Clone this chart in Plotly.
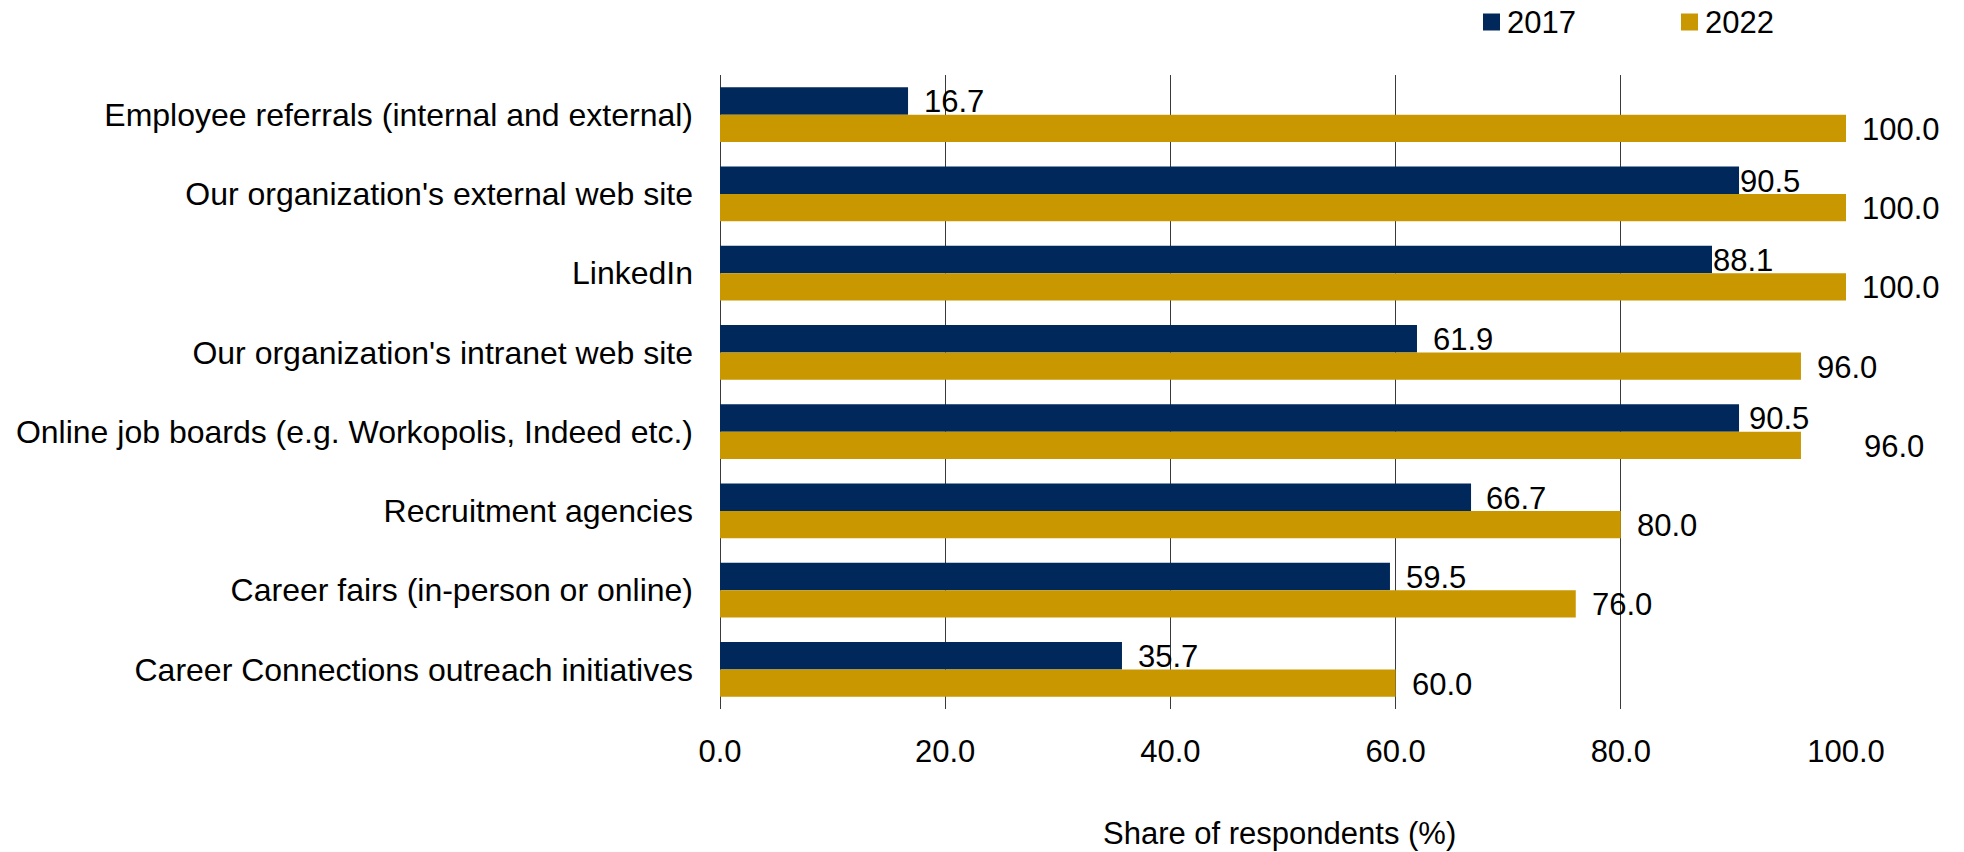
import plotly.graph_objects as go

# Recruitment channels and share of respondents using each (%)
channels = [
    "Employee referrals (internal and external)",
    "Our organization's external web site",
    "LinkedIn",
    "Our organization's intranet web site",
    "Online job boards (e.g. Workopolis, Indeed etc.)",
    "Recruitment agencies",
    "Career fairs (in-person or online)",
    "Career Connections outreach initiatives",
]
share_2017 = [16.7, 90.5, 88.1, 61.9, 90.5, 66.7, 59.5, 35.7]
share_2022 = [100.0, 100.0, 100.0, 96.0, 96.0, 80.0, 76.0, 60.0]
x_ticks = [0, 20, 40, 60, 80, 100]

# Styling
NAVY = "#00285A"
GOLD = "#C99700"
GRID = "#3a3a3a"
FONT = "Liberation Sans, Arial, sans-serif"
NUM_SIZE = 31
CAT_SIZE = 32
BARGAP = 0.31

# Horizontal pixel gap between bar end and its value label
gap_2017 = [16, 1, 1, 16, 10, 15, 16, 16]
gap_2022 = [16, 16, 16, 16, 63, 16, 16, 16]

# Page geometry (px)
W, H = 1964, 852
ML, MR, MT, MB = 720, 118, 75, 143

fig = go.Figure()
fig.add_trace(go.Bar(y=channels, x=share_2017, orientation="h", name="2017",
                     marker=dict(color=NAVY, line=dict(width=0))))
fig.add_trace(go.Bar(y=channels, x=share_2022, orientation="h", name="2022",
                     marker=dict(color=GOLD, line=dict(width=0))))

# Value labels beside each bar
half = (1 - BARGAP) / 4
annotations = []
for i, (v17, v22) in enumerate(zip(share_2017, share_2022)):
    annotations.append(dict(x=v17, y=i - half, xref="x", yref="y",
                            text=f"{v17:.1f}", showarrow=False,
                            xanchor="left", yanchor="middle",
                            xshift=gap_2017[i] - 2, yshift=-1,
                            font=dict(family=FONT, size=NUM_SIZE, color="#000")))
    annotations.append(dict(x=v22, y=i + half, xref="x", yref="y",
                            text=f"{v22:.1f}", showarrow=False,
                            xanchor="left", yanchor="middle",
                            xshift=gap_2022[i] - 2, yshift=-1,
                            font=dict(family=FONT, size=NUM_SIZE, color="#000")))

# Axis title below the tick labels
annotations.append(dict(x=0.5, y=0, xref="paper", yref="paper",
                        text="Share of respondents (%)", showarrow=False,
                        xanchor="center", yanchor="middle",
                        xshift=-4, yshift=-124,
                        font=dict(family=FONT, size=NUM_SIZE, color="#000")))

# Legend drawn at the top right
pw = W - ML - MR
ph = H - MT - MB
def px_x(px):
    return (px - ML) / pw
def px_y(py):
    return (H - MB - py) / ph

shapes = []
legend_items = [("2017", NAVY, 1483), ("2022", GOLD, 1681)]
for label, color, x0 in legend_items:
    shapes.append(dict(type="rect", xref="paper", yref="paper",
                       x0=px_x(x0), x1=px_x(x0 + 17),
                       y0=px_y(30.5), y1=px_y(13.5),
                       fillcolor=color, line=dict(width=0)))
    annotations.append(dict(x=px_x(x0 + 22), y=px_y(22), xref="paper", yref="paper",
                            text=label, showarrow=False,
                            xanchor="left", yanchor="middle",
                            font=dict(family=FONT, size=NUM_SIZE, color="#000")))

fig.update_layout(
    width=W, height=H,
    margin=dict(l=ML, r=MR, t=MT, b=MB, pad=0),
    barmode="group", bargap=BARGAP, bargroupgap=0,
    plot_bgcolor="white", paper_bgcolor="white",
    showlegend=False,
    font=dict(family=FONT, size=NUM_SIZE, color="#000"),
    annotations=annotations,
    shapes=shapes,
    xaxis=dict(range=[0, 100], tickvals=x_ticks,
               ticktext=[f"{t:.1f}" for t in x_ticks],
               showgrid=True, gridcolor=GRID, gridwidth=1,
               zeroline=True, zerolinecolor=GRID, zerolinewidth=1,
               showline=False, ticks="", ticklabelstandoff=21,
               tickfont=dict(family=FONT, size=NUM_SIZE, color="#000")),
    yaxis=dict(range=[len(channels) - 0.5, -0.5], type="category",
               showgrid=False, zeroline=False, showline=False, ticks="",
               ticklabelstandoff=26,
               tickfont=dict(family=FONT, size=CAT_SIZE, color="#000")),
)

fig.write_html("out.html")
